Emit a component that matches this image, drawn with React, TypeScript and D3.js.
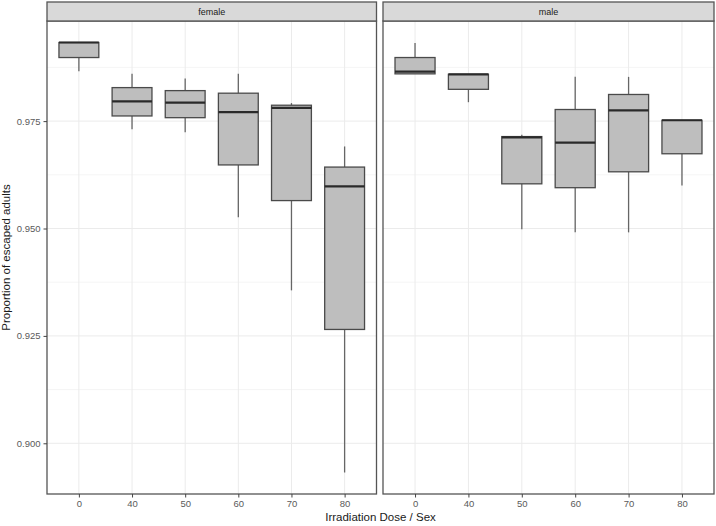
import * as React from "react";
import * as d3 from "d3";

// doses on the x axis
const doses = ["0", "40", "50", "60", "70", "80"];
const sexes = ["female", "male"];

// box stats, one value per dose
const femaleLow = [0.9866, 0.9731, 0.9724, 0.9526, 0.9356, 0.8932];
const femaleQ1 = [0.9898, 0.9762, 0.9758, 0.9648, 0.9565, 0.9265];
const femaleMed = [0.9933, 0.9796, 0.9793, 0.9771, 0.9781, 0.9598];
const femaleQ3 = [0.9933, 0.9828, 0.9821, 0.9815, 0.9787, 0.9643];
const femaleHigh = [0.9933, 0.986, 0.9849, 0.986, 0.9792, 0.9691];

const maleLow = [0.986, 0.9794, 0.9498, 0.9491, 0.9491, 0.96];
const maleQ1 = [0.986, 0.9824, 0.9604, 0.9595, 0.9632, 0.9674];
const maleMed = [0.9865, 0.9859, 0.9712, 0.97, 0.9775, 0.9752];
const maleQ3 = [0.9898, 0.9859, 0.9714, 0.9777, 0.9812, 0.9752];
const maleHigh = [0.9932, 0.9859, 0.9718, 0.9853, 0.9853, 0.9752];

const yTicks = [0.9, 0.925, 0.95, 0.975];
const yMinor = [0.9125, 0.9375, 0.9625, 0.9875];

function boxChart(svgRef) {
  const svg = d3.select(svgRef.current);
  svg.selectAll("*").remove();

  const width = 716;
  const height = 526;
  const top = 21;
  const bottom = 494;
  const stripTop = 2;
  const panels = [
    { x0: 47, x1: 376.5 },
    { x0: 383, x1: 714 },
  ];
  const font = "'Liberation Sans', Arial, sans-serif";

  svg.attr("width", width).attr("height", height);

  const stats = {
    female: femaleLow.map((d, i) => ({
      dose: doses[i],
      low: d,
      q1: femaleQ1[i],
      med: femaleMed[i],
      q3: femaleQ3[i],
      high: femaleHigh[i],
    })),
    male: maleLow.map((d, i) => ({
      dose: doses[i],
      low: d,
      q1: maleQ1[i],
      med: maleMed[i],
      q3: maleQ3[i],
      high: maleHigh[i],
    })),
  };

  const all = [...femaleLow, ...femaleHigh, ...maleLow, ...maleHigh];
  const [lo, hi] = d3.extent(all);
  const pad = (hi - lo) * 0.05;
  const yScale = d3
    .scaleLinear()
    .domain([lo - pad, hi + pad])
    .range([bottom, top]);

  sexes.forEach((sex, p) => {
    const { x0, x1 } = panels[p];
    const xScale = d3.scalePoint().domain(doses).range([x0, x1]).padding(0.6);
    const boxW = xScale.step() * 0.75;
    const g = svg.append("g");

    // panel background
    g.append("rect")
      .attr("x", x0)
      .attr("y", top)
      .attr("width", x1 - x0)
      .attr("height", bottom - top)
      .attr("fill", "#fff");

    // grid
    g.selectAll(".minor")
      .data(yMinor)
      .enter()
      .append("line")
      .attr("x1", x0)
      .attr("x2", x1)
      .attr("y1", (d) => yScale(d))
      .attr("y2", (d) => yScale(d))
      .style("stroke", "#f3f3f3")
      .style("stroke-width", 0.8);

    g.selectAll(".major")
      .data(yTicks)
      .enter()
      .append("line")
      .attr("x1", x0)
      .attr("x2", x1)
      .attr("y1", (d) => yScale(d))
      .attr("y2", (d) => yScale(d))
      .style("stroke", "#ebebeb")
      .style("stroke-width", 1);

    g.selectAll(".vgrid")
      .data(doses)
      .enter()
      .append("line")
      .attr("x1", (d) => xScale(d))
      .attr("x2", (d) => xScale(d))
      .attr("y1", top)
      .attr("y2", bottom)
      .style("stroke", "#ebebeb")
      .style("stroke-width", 1);

    // boxes
    const boxes = g
      .selectAll(".box")
      .data(stats[sex])
      .enter()
      .append("g");

    boxes
      .append("line")
      .attr("x1", (d) => xScale(d.dose))
      .attr("x2", (d) => xScale(d.dose))
      .attr("y1", (d) => yScale(d.high))
      .attr("y2", (d) => yScale(d.q3))
      .style("stroke", "#666")
      .style("stroke-width", 1.3);

    boxes
      .append("line")
      .attr("x1", (d) => xScale(d.dose))
      .attr("x2", (d) => xScale(d.dose))
      .attr("y1", (d) => yScale(d.q1))
      .attr("y2", (d) => yScale(d.low))
      .style("stroke", "#666")
      .style("stroke-width", 1.3);

    boxes
      .append("rect")
      .attr("x", (d) => xScale(d.dose) - boxW / 2)
      .attr("y", (d) => yScale(d.q3))
      .attr("width", boxW)
      .attr("height", (d) => yScale(d.q1) - yScale(d.q3))
      .style("fill", "#bebebe")
      .style("stroke", "#4a4a4a")
      .style("stroke-width", 1.3);

    boxes
      .append("line")
      .attr("x1", (d) => xScale(d.dose) - boxW / 2)
      .attr("x2", (d) => xScale(d.dose) + boxW / 2)
      .attr("y1", (d) => yScale(d.med))
      .attr("y2", (d) => yScale(d.med))
      .style("stroke", "#2a2a2a")
      .style("stroke-width", 2.2);

    // panel border
    g.append("rect")
      .attr("x", x0)
      .attr("y", top)
      .attr("width", x1 - x0)
      .attr("height", bottom - top)
      .attr("fill", "none")
      .style("stroke", "#555")
      .style("stroke-width", 1.3);

    // strip
    g.append("rect")
      .attr("x", x0)
      .attr("y", stripTop)
      .attr("width", x1 - x0)
      .attr("height", top - stripTop)
      .attr("fill", "#d9d9d9")
      .style("stroke", "#555")
      .style("stroke-width", 1.3);

    g.append("text")
      .attr("x", (x0 + x1) / 2)
      .attr("y", (top + stripTop) / 2)
      .attr("dy", "0.35em")
      .attr("text-anchor", "middle")
      .attr("font-family", font)
      .attr("font-size", 9)
      .attr("fill", "#1a1a1a")
      .text(sex);

    // x axis
    const xAxis = d3.axisBottom(xScale).tickSize(3.5).tickPadding(3);
    const xg = g
      .append("g")
      .attr("transform", `translate(0, ${bottom})`)
      .call(xAxis);
    xg.select(".domain").remove();
    xg.selectAll("line").style("stroke", "#444");
    xg.selectAll("text")
      .attr("font-family", font)
      .attr("font-size", 9.5)
      .attr("fill", "#5a5a5a");

    if (p === 0) {
      const yAxis = d3
        .axisLeft(yScale)
        .tickValues(yTicks)
        .tickFormat(d3.format(".3f"))
        .tickSize(3.5)
        .tickPadding(3);
      const yg = g
        .append("g")
        .attr("transform", `translate(${x0}, 0)`)
        .call(yAxis);
      yg.select(".domain").remove();
      yg.selectAll("line").style("stroke", "#444");
      yg.selectAll("text")
        .attr("font-family", font)
        .attr("font-size", 9.5)
        .attr("fill", "#5a5a5a");
    }
  });

  // axis titles
  svg
    .append("text")
    .attr("x", (panels[0].x0 + panels[1].x1) / 2)
    .attr("y", 521)
    .attr("text-anchor", "middle")
    .attr("font-family", font)
    .attr("font-size", 11.5)
    .attr("fill", "#1a1a1a")
    .text("Irradiation Dose / Sex");

  svg
    .append("text")
    .attr("transform", `translate(10, ${(top + bottom) / 2}) rotate(-90)`)
    .attr("text-anchor", "middle")
    .attr("font-family", font)
    .attr("font-size", 11.5)
    .attr("fill", "#1a1a1a")
    .text("Proportion of escaped adults");
}

const App = () => {
  const svg = React.useRef(null);
  React.useEffect(() => {
    boxChart(svg);
  }, [svg]);

  return (
    <svg
      ref={svg}
      style={{ position: "absolute", left: 0, top: 0, background: "#fff" }}
    />
  );
};

export default App;
